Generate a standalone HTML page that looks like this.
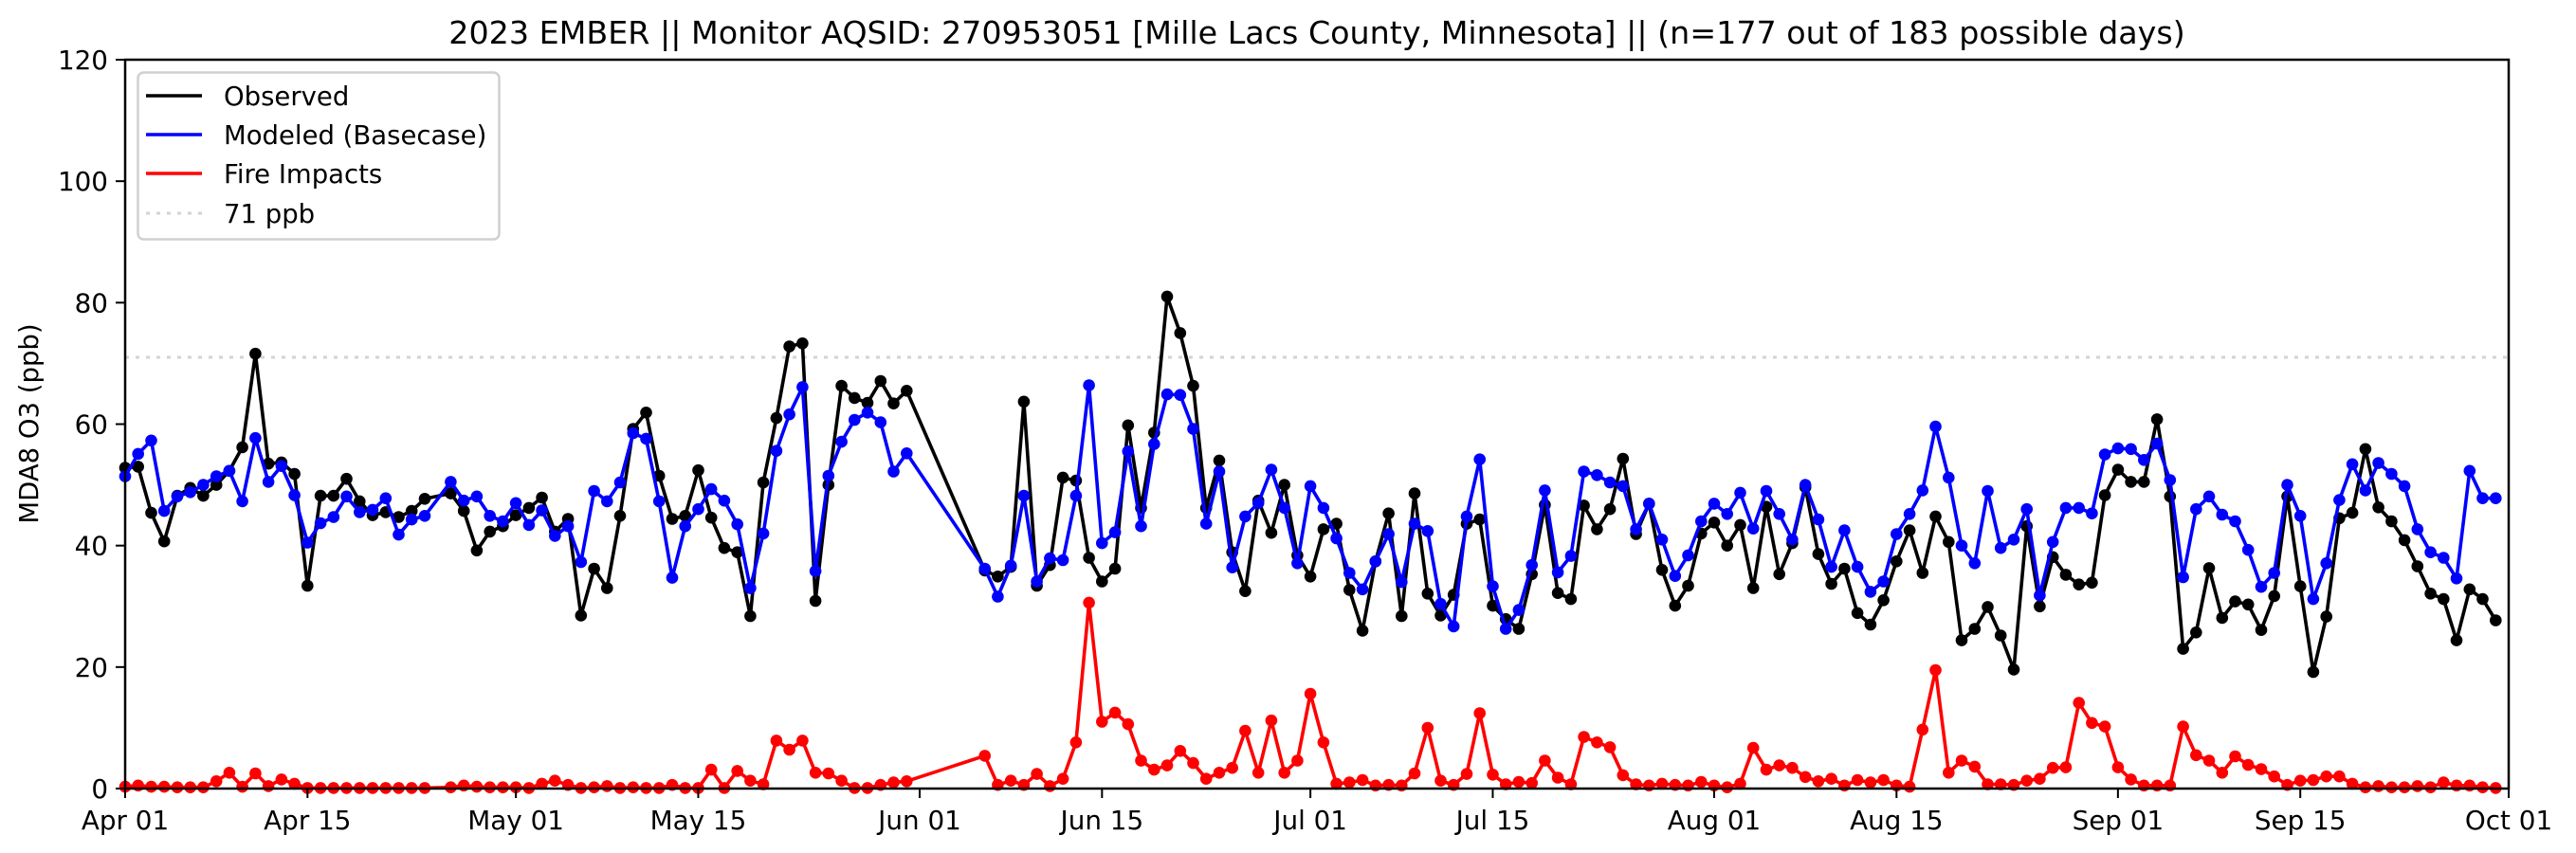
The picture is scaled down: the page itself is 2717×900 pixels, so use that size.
<!DOCTYPE html>
<html><head><meta charset="utf-8"><style>
html,body{margin:0;padding:0;background:#fff;}
svg{display:block;font-family:"DejaVu Sans","Liberation Sans",sans-serif;}
</style></head><body>
<svg id="chart" width="2717" height="900" viewBox="0 0 2717 900" xmlns="http://www.w3.org/2000/svg">
<rect width="2717" height="900" fill="#fff"/>
<text x="1389" y="46" font-size="33.3" text-anchor="middle" fill="#000">2023 EMBER || Monitor AQSID: 270953051 [Mille Lacs County, Minnesota] || (n=177 out of 183 possible days)</text>
<text transform="translate(40,447) rotate(-90)" font-size="27.5" text-anchor="middle" fill="#000">MDA8 O3 (ppb)</text>
<g id="grid"></g>
<g id="series"></g>
<g id="axes"></g>
<g id="legend">
<rect x="145.5" y="76.5" width="381" height="176" rx="6" fill="#fff" fill-opacity="0.8" stroke="#d0d0d0" stroke-width="2.5"/>
<g><line x1="154" y1="101" x2="213" y2="101" stroke="#000" stroke-width="3.6"/><text x="236" y="111" font-size="27.5">Observed</text></g>
<g><line x1="154" y1="142" x2="213" y2="142" stroke="#0000ff" stroke-width="3.6"/><text x="236" y="152" font-size="27.5">Modeled (Basecase)</text></g>
<g><line x1="154" y1="183" x2="213" y2="183" stroke="#ff0000" stroke-width="3.6"/><text x="236" y="193" font-size="27.5">Fire Impacts</text></g>
<g><line x1="154" y1="225" x2="213" y2="225" stroke="#d3d3d3" stroke-width="3" stroke-dasharray="4 7"/><text x="236" y="235" font-size="27.5">71 ppb</text></g>
</g>
</svg>
<script>
const startDate = '2023-04-01';
const endDate = '2023-10-01';
const yTicks = [0, 20, 40, 60, 80, 100, 120];
const xTickDates = ['2023-04-01','2023-04-15','2023-05-01','2023-05-15','2023-06-01','2023-06-15','2023-07-01','2023-07-15','2023-08-01','2023-08-15','2023-09-01','2023-09-15','2023-10-01'];
const xTickLabels = ['Apr 01','Apr 15','May 01','May 15','Jun 01','Jun 15','Jul 01','Jul 15','Aug 01','Aug 15','Sep 01','Sep 15','Oct 01'];
const thresholdValue = 71;
// daily values starting 2023-04-01 (null = missing day)
const observed = [
52.8,53,45.4,40.7,48.2,49.5,48.2,50,52.3,56.2,
71.6,53.5,53.7,51.8,33.4,48.2,48.2,51,47.3,45,
45.5,44.7,45.7,47.7,null,48.6,45.7,39.2,42.3,43.2,
45,46.2,47.9,42.3,44.4,28.5,36.2,33,44.9,59.2,
61.9,51.5,44.4,44.9,52.4,44.6,39.6,38.9,28.4,50.4,
61,72.8,73.3,30.9,50,66.3,64.3,63.5,67.1,63.4,
65.5,null,null,null,null,null,35.9,34.9,36.5,63.7,
33.4,36.8,51.2,50.7,38,34.1,36.2,59.8,46.2,58.6,
81,75,66.3,46.2,54,38.9,32.5,47.4,42.1,50,
38.4,34.9,42.7,43.6,32.7,26,37.4,45.3,28.4,48.6,
32.1,28.5,31.9,43.6,44.3,30.1,27.9,26.3,35.3,46.7,
32.2,31.2,46.6,42.7,46,54.3,41.9,46.9,36,30.1,
33.4,42,43.8,40,43.4,33,46.4,35.3,40.4,49.6,
38.6,33.7,36.2,28.9,27,31,37.4,42.5,35.5,44.8,
40.6,24.4,26.3,29.9,25.2,19.6,43.2,30,38.1,35.2,
33.6,33.9,48.3,52.5,50.5,50.5,60.8,48.1,23,25.7,
36.3,28.1,30.8,30.3,26.1,31.7,48.1,33.3,19.2,28.3,
44.5,45.4,55.9,46.3,44,40.9,36.6,32.1,31.2,24.4,
32.8,31.2,27.7];
const modeled = [
51.4,55.1,57.3,45.7,48.1,48.8,50,51.4,52.3,47.3,
57.7,50.5,53.1,48.3,40.5,43.7,44.7,48.1,45.5,45.9,
47.8,41.8,44.3,44.9,null,50.5,47.4,48.1,44.9,44,
47,43.4,45.8,41.6,43.2,37.3,49,47.3,50.4,58.5,
57.6,47.3,34.7,43.2,46,49.3,47.4,43.5,33,42,
55.6,61.6,66.1,35.8,51.5,57.1,60.7,61.9,60.3,52.2,
55.2,null,null,null,null,null,36.2,31.6,36.7,48.2,
34.1,37.9,37.6,48.2,66.4,40.4,42.2,55.5,43.2,56.7,
64.9,64.8,59.2,43.6,52.2,36.4,44.8,47,52.5,46.2,
37.1,49.8,46.2,41.2,35.5,32.8,37.4,41.9,34,43.6,
42.4,30.4,26.7,44.8,54.2,33.3,26.3,29.4,36.8,49.1,
35.6,38.3,52.2,51.6,50.4,49.8,42.7,46.9,41,35,
38.4,44,46.9,45.2,48.7,42.8,49,45.2,41,50,
44.3,36.5,42.5,36.5,32.4,34.1,41.9,45.2,49.1,59.6,
51.2,40,37.1,49,39.6,41,46,31.8,40.6,46.2,
46.2,45.3,55,56,55.9,54.1,56.8,50.8,34.8,46,
48.1,45.1,44,39.3,33.2,35.5,50,44.9,31.2,37.1,
47.5,53.4,49.1,53.6,51.8,49.8,42.7,38.9,38,34.6,
52.3,47.8,47.8];
const fireImpacts = [
0.3,0.5,0.3,0.3,0.2,0.2,0.2,1.2,2.6,0.3,
2.5,0.4,1.5,0.8,0.1,0.1,0.1,0.1,0.1,0.1,
0.1,0.1,0.1,0.1,null,0.2,0.5,0.3,0.2,0.2,
0.2,0.1,0.8,1.3,0.6,0.1,0.2,0.4,0.1,0.2,
0.1,0.1,0.6,0.1,0.1,3.1,0.1,2.9,1.3,0.7,
7.9,6.4,7.9,2.6,2.5,1.3,0.1,0.1,0.6,1,
1.2,null,null,null,null,null,5.4,0.6,1.3,0.6,
2.4,0.4,1.6,7.6,30.6,11,12.5,10.6,4.6,3.1,
3.8,6.2,4.2,1.6,2.6,3.4,9.5,2.6,11.2,2.6,
4.6,15.6,7.6,0.8,1,1.4,0.5,0.6,0.5,2.5,
10,1.3,0.6,2.4,12.4,2.3,0.7,1.1,0.9,4.6,
1.8,0.7,8.5,7.6,6.8,2.2,0.7,0.5,0.8,0.6,
0.5,1.1,0.5,0.2,0.8,6.7,3.1,3.8,3.4,1.9,
1.2,1.6,0.5,1.4,1,1.4,0.5,0.3,9.7,19.5,
2.6,4.6,3.6,0.7,0.7,0.6,1.3,1.6,3.4,3.5,
14.1,10.8,10.2,3.5,1.5,0.5,0.5,0.5,10.2,5.5,
4.6,2.6,5.3,3.9,3.2,2,0.6,1.3,1.4,2,
2,0.8,0.2,0.4,0.2,0.2,0.4,0.2,1,0.5,
0.5,0.2,0.1];

const NS = 'http://www.w3.org/2000/svg';
const L = 132, R = 2646, T = 63, B = 832;
const yMin = 0, yMax = 120;
const DAY = 86400000;
const t0 = Date.parse(startDate + 'T00:00:00Z');
const t1 = Date.parse(endDate + 'T00:00:00Z');
const nDays = (t1 - t0) / DAY;
function xDay(d) { return L + (R - L) * d / nDays; }
function xDate(s) { return xDay((Date.parse(s + 'T00:00:00Z') - t0) / DAY); }
function yScale(v) { return B - (B - T) * (v - yMin) / (yMax - yMin); }
function mk(tag, attrs, parent) {
  const e = document.createElementNS(NS, tag);
  for (const k in attrs) e.setAttribute(k, attrs[k]);
  parent.appendChild(e);
  return e;
}
const grid = document.getElementById('grid');
const series = document.getElementById('series');
const axes = document.getElementById('axes');

const th = mk('line', {x1: L, x2: R, y1: yScale(thresholdValue), y2: yScale(thresholdValue), stroke: '#d3d3d3', 'stroke-width': 3, 'stroke-dasharray': '4 7'}, grid);



function drawSeries(vals, color, name) {
  const g = mk('g', {}, series);
  
  
  let pts = [];
  vals.forEach((v, i) => { if (v !== null) pts.push([xDay(i), yScale(v)]); });
  const p = mk('polyline', {points: pts.map(q => q[0].toFixed(1) + ',' + q[1].toFixed(1)).join(' '), fill: 'none', stroke: color, 'stroke-width': 3.6, 'stroke-linejoin': 'round'}, g);
  
  
  vals.forEach((v, i) => {
    if (v === null) return;
    const c = mk('circle', {cx: xDay(i).toFixed(1), cy: yScale(v).toFixed(1), r: 6.3, fill: color}, g);
    
    
  });
}
drawSeries(observed, '#000000', 'observed');
drawSeries(modeled, '#0000ff', 'modeled');
drawSeries(fireImpacts, '#ff0000', 'fire-impacts');

const fr = mk('rect', {x: L, y: T, width: R - L, height: B - T, fill: 'none', stroke: '#000', 'stroke-width': 2.5}, axes);



yTicks.forEach(v => {
  const y = yScale(v);
  const tk = mk('line', {x1: L - 10, x2: L, y1: y, y2: y, stroke: '#000', 'stroke-width': 2}, axes);
  
  
  const tx = mk('text', {x: L - 18, y: y + 10, 'font-size': 27.8, 'text-anchor': 'end', fill: '#000'}, axes);
  tx.textContent = String(v);
  
  
});
xTickDates.forEach((d, i) => {
  const x = xDate(d);
  const tk = mk('line', {x1: x, x2: x, y1: B, y2: B + 10, stroke: '#000', 'stroke-width': 2}, axes);
  
  
  const tx = mk('text', {x: x, y: B + 43, 'font-size': 27.8, 'text-anchor': 'middle', fill: '#000'}, axes);
  tx.textContent = xTickLabels[i];
  
  
});
</script>
</body></html>
